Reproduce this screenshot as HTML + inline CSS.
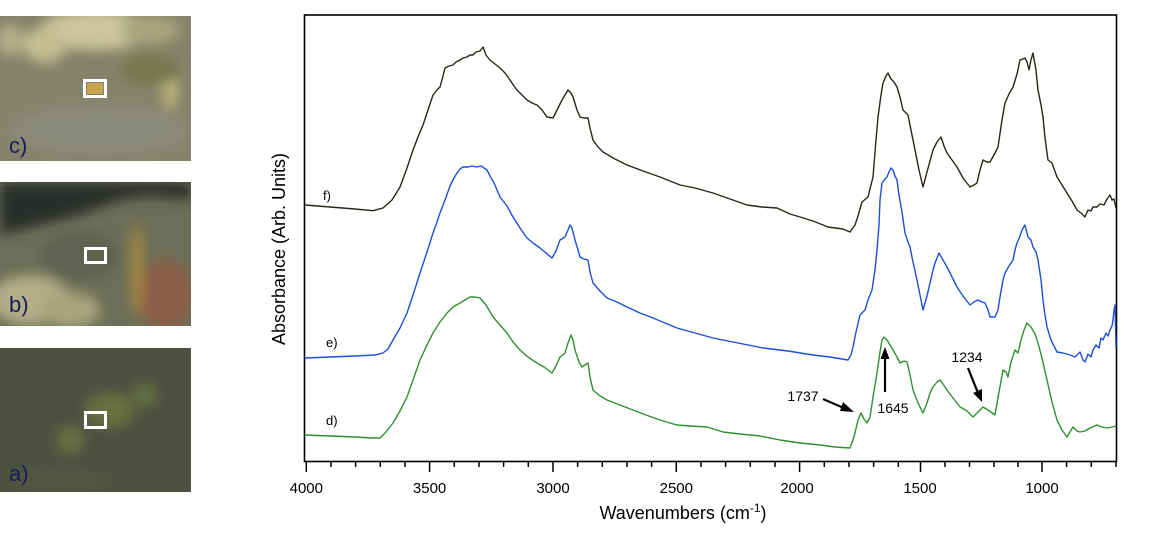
<!DOCTYPE html>
<html><head><meta charset="utf-8">
<style>
html,body{margin:0;padding:0;background:#fff;}
body{width:1150px;height:534px;overflow:hidden;position:relative;font-family:"Liberation Sans",Arial,sans-serif;}
svg{position:absolute;left:0;top:0;}
</style></head>
<body>
<svg width="1150" height="534" viewBox="0 0 1150 534" xmlns="http://www.w3.org/2000/svg">
<defs>
<filter id="bl" x="-50%" y="-50%" width="200%" height="200%"><feGaussianBlur stdDeviation="6"/></filter>
<clipPath id="cc"><rect x="0" y="16" width="191" height="145"/></clipPath>
<clipPath id="cb"><rect x="0" y="182" width="191" height="144"/></clipPath>
<clipPath id="ca"><rect x="0" y="348" width="191" height="144"/></clipPath>
</defs>

<!-- Panel c -->
<g clip-path="url(#cc)">
<rect x="0" y="16" width="191" height="145" fill="#84836a"/>
<g filter="url(#bl)">
<ellipse cx="95" cy="30" rx="55" ry="20" fill="#cdc59c"/>
<ellipse cx="45" cy="45" rx="22" ry="18" fill="#c4bd92"/>
<ellipse cx="10" cy="40" rx="14" ry="16" fill="#b3ad86"/>
<ellipse cx="150" cy="30" rx="30" ry="14" fill="#a9a67e"/>
<ellipse cx="170" cy="90" rx="8" ry="20" fill="#bfb27a"/>
<ellipse cx="100" cy="130" rx="90" ry="25" fill="#8a8a78"/>
<ellipse cx="150" cy="70" rx="30" ry="15" fill="#76784e"/>
</g>
</g>
<rect x="84.5" y="80.5" width="21" height="16" fill="none" stroke="#fff" stroke-width="3"/>
<rect x="87" y="83" width="16" height="11" fill="#c9a450"/>
<text x="9" y="153" font-size="22" fill="#1c1a5e" font-family="Liberation Sans, sans-serif">c)</text>

<!-- Panel b -->
<g clip-path="url(#cb)">
<rect x="0" y="182" width="191" height="144" fill="#6c6f57"/>
<g filter="url(#bl)">
<path d="M0 182 H191 V200 L150 196 L120 200 L80 215 L40 225 L0 235 Z" fill="#2a2f2b"/>
<ellipse cx="30" cy="300" rx="40" ry="25" fill="#b3ad87"/>
<ellipse cx="70" cy="310" rx="30" ry="18" fill="#a8a47c"/>
<ellipse cx="165" cy="295" rx="30" ry="35" fill="#8b5e4a"/>
<ellipse cx="137" cy="270" rx="6" ry="45" fill="#a8893e"/>
<ellipse cx="80" cy="255" rx="40" ry="25" fill="#5d6350"/>
</g>
</g>
<rect x="85.5" y="248.5" width="20" height="14" fill="none" stroke="#fff" stroke-width="3"/>
<text x="9" y="312" font-size="22" fill="#1c1a5e" font-family="Liberation Sans, sans-serif">b)</text>

<!-- Panel a -->
<g clip-path="url(#ca)">
<rect x="0" y="348" width="191" height="144" fill="#4c5140"/>
<g filter="url(#bl)">
<ellipse cx="110" cy="410" rx="25" ry="18" fill="#687040"/>
<ellipse cx="70" cy="440" rx="14" ry="14" fill="#6a7140"/>
<ellipse cx="145" cy="395" rx="12" ry="12" fill="#657040"/>
<ellipse cx="60" cy="480" rx="50" ry="10" fill="#55583f"/>
</g>
</g>
<rect x="85.5" y="412.5" width="20" height="15" fill="none" stroke="#fff" stroke-width="3"/>
<text x="9" y="481" font-size="22" fill="#1c1a5e" font-family="Liberation Sans, sans-serif">a)</text>

<!-- Chart frame -->
<rect x="304.5" y="15" width="812" height="446.5" fill="none" stroke="#000" stroke-width="1.6"/>

<!-- ticks -->
<g stroke="#000" stroke-width="1.5">
<line x1="306.3" y1="461.5" x2="306.3" y2="472"/>
<line x1="330.97" y1="461.5" x2="330.97" y2="467"/>
<line x1="355.6" y1="461.5" x2="355.6" y2="467"/>
<line x1="380.3" y1="461.5" x2="380.3" y2="467"/>
<line x1="405" y1="461.5" x2="405" y2="467"/>
<line x1="429.6" y1="461.5" x2="429.6" y2="472"/>
<line x1="454.3" y1="461.5" x2="454.3" y2="467"/>
<line x1="479" y1="461.5" x2="479" y2="467"/>
<line x1="503.6" y1="461.5" x2="503.6" y2="467"/>
<line x1="528.3" y1="461.5" x2="528.3" y2="467"/>
<line x1="553" y1="461.5" x2="553" y2="472"/>
<line x1="577.6" y1="461.5" x2="577.6" y2="467"/>
<line x1="602.3" y1="461.5" x2="602.3" y2="467"/>
<line x1="627" y1="461.5" x2="627" y2="467"/>
<line x1="651.6" y1="461.5" x2="651.6" y2="467"/>
<line x1="676.3" y1="461.5" x2="676.3" y2="472"/>
<line x1="701" y1="461.5" x2="701" y2="467"/>
<line x1="725.6" y1="461.5" x2="725.6" y2="467"/>
<line x1="750.3" y1="461.5" x2="750.3" y2="467"/>
<line x1="775" y1="461.5" x2="775" y2="467"/>
<line x1="799.6" y1="461.5" x2="799.6" y2="472"/>
<line x1="824.3" y1="461.5" x2="824.3" y2="467"/>
<line x1="849" y1="461.5" x2="849" y2="467"/>
<line x1="873.6" y1="461.5" x2="873.6" y2="467"/>
<line x1="898.3" y1="461.5" x2="898.3" y2="467"/>
<line x1="920.5" y1="461.5" x2="920.5" y2="472"/>
<line x1="945" y1="461.5" x2="945" y2="467"/>
<line x1="969.5" y1="461.5" x2="969.5" y2="467"/>
<line x1="994" y1="461.5" x2="994" y2="467"/>
<line x1="1018" y1="461.5" x2="1018" y2="467"/>
<line x1="1042" y1="461.5" x2="1042" y2="472"/>
<line x1="1066.6" y1="461.5" x2="1066.6" y2="467"/>
<line x1="1091.3" y1="461.5" x2="1091.3" y2="467"/>
<line x1="1116" y1="461.5" x2="1116" y2="467"/>
</g>

<g font-size="15" fill="#000" text-anchor="middle" font-family="Liberation Sans, sans-serif">
<text x="306.3" y="493">4000</text>
<text x="429.6" y="493">3500</text>
<text x="553" y="493">3000</text>
<text x="676.3" y="493">2500</text>
<text x="797" y="493">2000</text>
<text x="920" y="493">1500</text>
<text x="1042" y="493">1000</text>
</g>
<text x="683" y="519" font-size="18" text-anchor="middle" font-family="Liberation Sans, sans-serif">Wavenumbers (cm<tspan font-size="12" dy="-7">-1</tspan><tspan dy="7">)</tspan></text>
<text transform="translate(285,249) rotate(-90)" font-size="18" text-anchor="middle" font-family="Liberation Sans, sans-serif">Absorbance (Arb. Units)</text>

<!-- curve f -->
<polyline fill="none" stroke="#2b2617" stroke-width="1.4" stroke-linejoin="round" points="
305,205 330,207 355,209 373,210.7 383,208 392,200 400,187 407,168 413,150 418,137 423,125 428,110 433,95 437,90 440,87 443,76 445,68 449,66 453,65 456,62 460,60 463,58 467,57 470,55 473,55 476,52 480,51 483,47 486,55 490,60 495,64 500,68 505,73 510,80 514,86 517,90 522,95 527,100 532,103 537,105 542,110 547,117 553,118 556,112 562,100 565,95 568,90 571,93 573,97 577,110 580,117 584,118 588,118 590,128 593,140 598,147 603,152 615,159 627,165 643,171 660,177 670,181 680,185 695,188 713,193 730,199 747,205 762,207 777,208 790,214 800,217 813,221 828,227 843,229 850,232 855,225 858,216 862,202 868,197 873,177 876,140 878,117 881,95 883,83 886,76 888,73 891,79 894,82 897,87 900,97 903,110 906,113 908,115 912,135 915,150 919,170 923,187 927,172 933,150 937,142 941,137 944,146 947,153 952,160 957,167 963,178 970,187 974,185 977,183 980,170 983,160 987,162 990,162 994,155 998,147 1002,120 1005,103 1009,94 1013,87 1017,74 1020,60 1023,59 1025,58 1027,62 1029,70 1031,60 1033,53 1036,70 1038,90 1041,105 1043,117 1045,138 1048,160 1052,163 1057,177 1062,185 1067,193 1072,201 1077,210 1081,213 1085,217 1088,210 1091,211 1093,207 1097,207 1100,204 1104,205 1107,199 1110,195 1112,200 1114,199 1116,208"/>

<!-- curve e -->
<polyline fill="none" stroke="#1d4fd8" stroke-width="1.4" stroke-linejoin="round" points="
305,358 330,357 355,356 375,355 383,353 388,349 393,340 400,328 407,313 413,295 420,273 427,252 433,233 437,222 440,213 445,200 450,186 454,178 457,173 460,169 463,167 468,167 472,166 477,167 481,166 484,168 487,170 490,176 494,183 500,197 507,206 513,217 520,228 527,238 533,243 540,248 546,253 552,258 556,251 560,240 565,237 568,230 570,225 572,228 575,240 578,250 580,257 584,259 588,260 590,272 593,283 600,291 607,298 617,302 627,307 640,313 653,318 665,323 677,328 695,333 713,338 738,343 763,348 788,351 813,355 830,357 848,360 851,355 853,347 856,332 860,315 865,310 868,300 872,290 875,270 877,250 879,225 880,200 882,183 885,179 887,177 889,172 891,168 893,170 895,176 897,180 899,195 902,212 905,233 908,242 910,247 913,262 917,280 920,295 923,310 927,296 930,283 933,270 935,263 939,253 943,260 947,267 952,277 957,287 963,296 970,305 974,302 978,300 982,302 985,303 988,310 990,317 995,317 998,310 1000,297 1003,280 1005,273 1009,266 1013,260 1015,250 1017,243 1020,236 1022,230 1025,225 1027,233 1028,237 1031,240 1033,247 1036,252 1038,260 1041,280 1043,300 1045,315 1047,327 1051,340 1057,352 1063,353 1070,355 1075,357 1080,352 1083,360 1085,362 1088,354 1091,357 1093,350 1096,345 1099,348 1101,338 1103,340 1106,333 1108,336 1110,330 1112,326 1113,320 1114,310 1115,305 1116,347"/>

<!-- curve d -->
<polyline fill="none" stroke="#309030" stroke-width="1.4" stroke-linejoin="round" points="
305,435 330,436 355,437 372,438 380,438 386,432 393,423 400,411 407,397 413,380 420,360 427,345 433,333 440,322 447,313 453,307 460,303 465,300 470,297 475,297 480,298 486,305 493,317 500,325 507,333 513,342 520,350 528,357 537,363 544,367 552,373 556,366 560,357 565,353 568,343 571,335 573,340 575,350 579,362 582,367 585,365 588,363 590,377 593,390 600,396 607,400 620,405 633,410 646,415 660,420 670,423 677,425 690,426 707,427 723,432 740,434 760,436 780,440 800,443 820,445 835,447 850,448 853,440 855,433 858,420 861,413 864,419 867,423 870,417 873,397 877,373 880,352 882,340 884,337 887,340 890,345 893,350 897,357 900,363 904,361 907,362 910,375 913,390 918,403 923,413 927,403 930,393 933,387 937,382 940,380 943,384 947,390 953,398 960,407 967,411 973,417 978,412 983,407 988,410 995,415 999,392 1003,370 1006,372 1008,377 1011,362 1015,350 1018,353 1021,340 1024,330 1027,323 1031,327 1035,334 1038,343 1042,358 1047,380 1052,402 1057,420 1062,430 1067,437 1070,432 1073,427 1077,431 1080,432 1085,431 1090,428 1097,425 1102,427 1107,428 1112,427 1116,426"/>

<!-- series labels -->
<g font-size="13" fill="#000" font-family="Liberation Sans, sans-serif">
<text x="323" y="200">f)</text>
<text x="326" y="347">e)</text>
<text x="326" y="425">d)</text>
</g>

<!-- annotations -->
<g font-size="14" fill="#000" font-family="Liberation Sans, sans-serif" text-anchor="middle">
<text x="803" y="401">1737</text>
<text x="893" y="413">1645</text>
<text x="967" y="362">1234</text>
</g>
<g stroke="#000" stroke-width="2.2" fill="none">
<line x1="823" y1="399" x2="846" y2="409"/>
<line x1="885" y1="392" x2="885" y2="357"/>
<line x1="968" y1="368" x2="978" y2="393"/>
</g>
<g fill="#000">
<polygon points="854,412 843,402 840,411"/>
<polygon points="885,347 880.5,359 889.5,359"/>
<polygon points="982,402 973,393 982,389"/>
</g>
</svg>
</body></html>
